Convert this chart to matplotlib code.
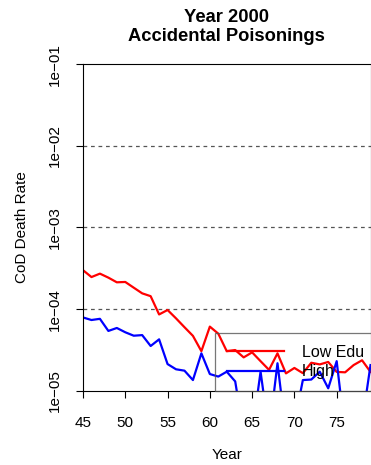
import numpy as np
import matplotlib
matplotlib.use("Agg")
import matplotlib.pyplot as plt
from matplotlib.ticker import FixedLocator, FixedFormatter, NullLocator

plt.rcParams['font.family'] = ['Liberation Sans', 'DejaVu Sans']

# ----- Data -----

years = list(range(45, 80))

low_edu = [3.0e-4, 2.47e-4, 2.72e-4, 2.43e-4, 2.13e-4, 2.15e-4, 1.83e-4, 1.56e-4,
           1.44e-4, 8.6e-5, 9.75e-5, 7.7e-5, 6.0e-5, 4.7e-5, 3.05e-5, 6.1e-5,
           5.0e-5, 3.05e-5, 3.15e-5, 2.56e-5, 2.95e-5, 2.3e-5, 1.8e-5, 2.87e-5,
           1.63e-5, 1.9e-5, 1.64e-5, 2.2e-5, 2.1e-5, 2.25e-5, 1.7e-5, 1.68e-5,
           2.06e-5, 2.36e-5, 1.7e-5]

high_edu = [7.9e-5, 7.35e-5, 7.6e-5, 5.4e-5, 5.87e-5, 5.2e-5, 4.72e-5, 4.8e-5,
            3.53e-5, 4.26e-5, 2.12e-5, 1.83e-5, 1.76e-5, 1.35e-5, 2.87e-5, 1.6e-5,
            1.49e-5, 1.71e-5, 1.3e-5, 3e-6, 3e-6, 1.71e-5, 3e-6, 2.17e-5,
            3e-6, 4e-6, 1.35e-5, 1.37e-5, 1.71e-5, 1.07e-5, 2.3e-5, 3e-6,
            3e-6, 4e-6, 2.06e-5]

grid_levels = [1e-4, 1e-3, 1e-2]
y_ticks = [1e-5, 1e-4, 1e-3, 1e-2, 1e-1]
y_labels = ["1e\u221205", "1e\u221204", "1e\u221203", "1e\u221202", "1e\u221201"]
x_ticks = [45, 50, 55, 60, 65, 70, 75]

# ----- Plot -----

fig = plt.figure(figsize=(3.71, 4.65), dpi=100)
ax = fig.add_axes([83 / 371, 1 - 390.7 / 465, 287.5 / 371, (390.7 - 64.3) / 465])

ax.set_yscale("log")
ax.set_xlim(45, 79)
ax.set_ylim(1e-5, 1e-1)

for lvl in grid_levels:
    ax.axhline(lvl, color="#555555", lw=0.9, ls=(0, (3, 3)))

ax.plot(years, low_edu, color="#ff0000", lw=1.6, label="Low Edu")
ax.plot(years, high_edu, color="#0000ff", lw=1.6, label="High")

ax.yaxis.set_major_locator(FixedLocator(y_ticks))
ax.yaxis.set_major_formatter(FixedFormatter(y_labels))
ax.yaxis.set_minor_locator(NullLocator())
ax.set_xticks(x_ticks)

ax.tick_params(axis="both", labelsize=11, length=5, width=0.8, direction="out")
ax.tick_params(axis="x", pad=13)
ax.tick_params(axis="y", pad=10)
for lab in ax.get_yticklabels():
    lab.set_rotation(90)
    lab.set_va("center")

for sp in ax.spines.values():
    sp.set_linewidth(0.8)

ax.set_xlabel("Year", fontsize=11, labelpad=13)
ax.set_ylabel("CoD Death Rate", fontsize=11, labelpad=14)
ax.set_title("Year 2000\nAccidental Poisonings", fontsize=13.2, fontweight="bold", pad=17,
             linespacing=1.15)

leg = ax.legend(loc="upper left", bbox_to_anchor=(60.6, 5.1e-5), bbox_transform=ax.transData,
                fontsize=11.5, frameon=True, fancybox=False, facecolor="none",
                borderpad=0.75, handlelength=3.6, handletextpad=1.1, labelspacing=0.28,
                borderaxespad=0)
leg.get_frame().set_edgecolor("#555555")
leg.get_frame().set_linewidth(0.9)

fig.savefig("out.png", dpi=100)
